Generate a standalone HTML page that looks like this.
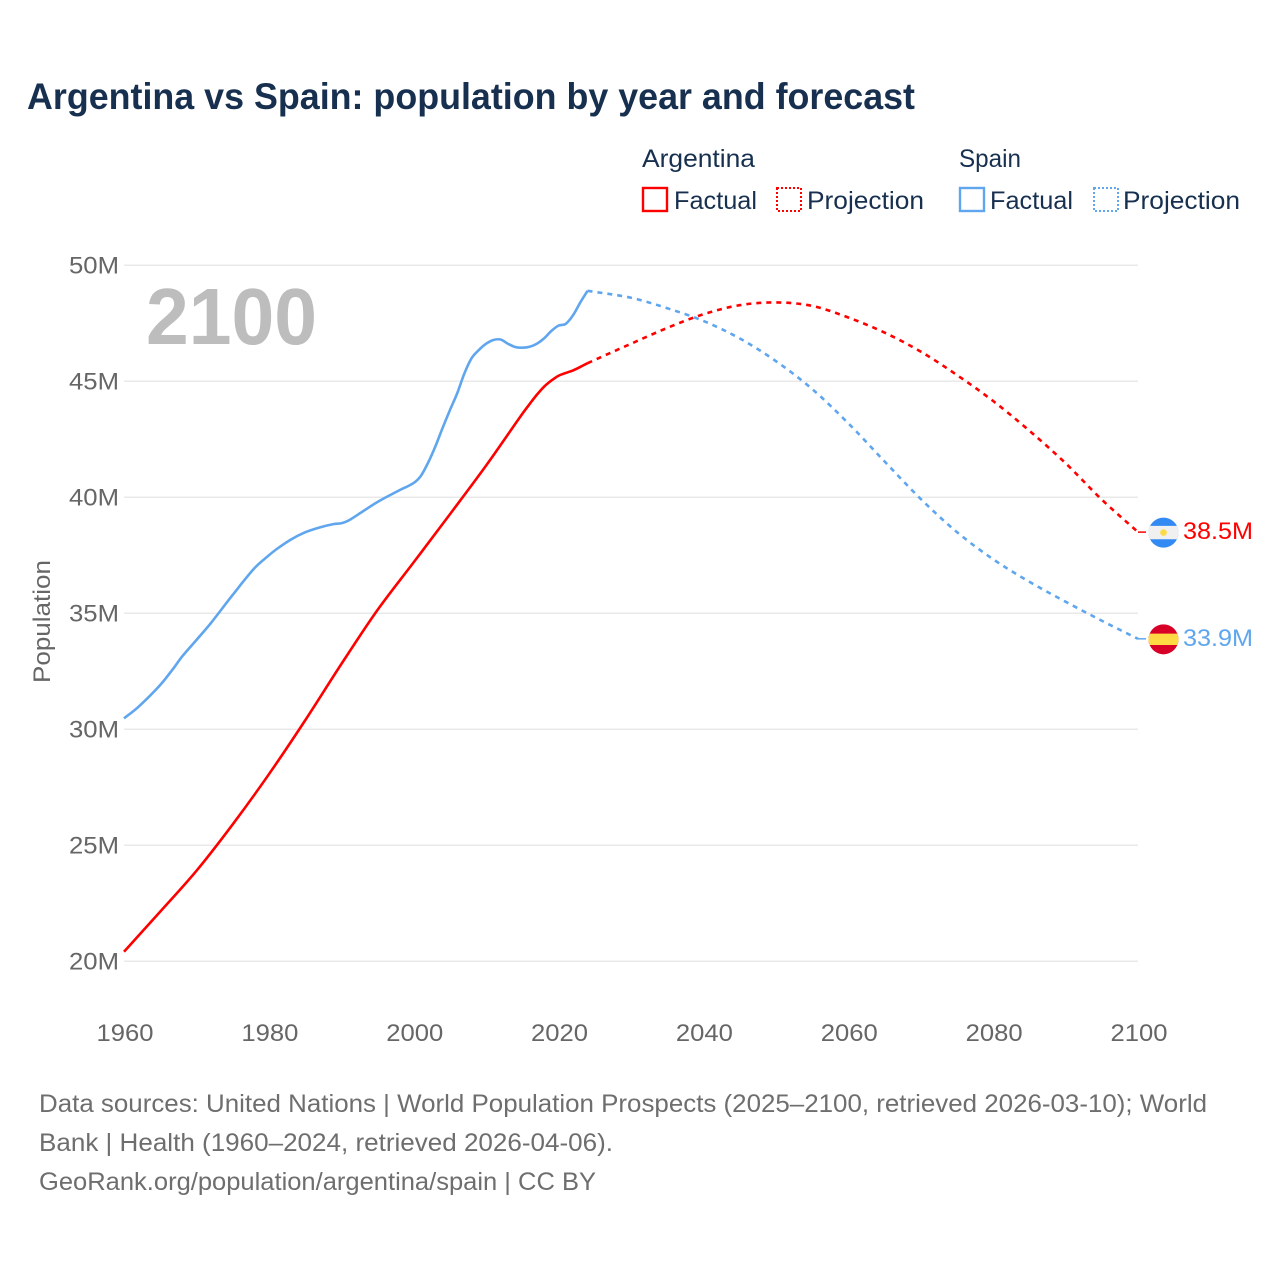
<!DOCTYPE html>
<html lang="en">
<head>
<meta charset="utf-8">
<title>Argentina vs Spain: population by year and forecast</title>
<style>
  html, body { margin: 0; padding: 0; background: #ffffff; }
  svg { display: block; font-family: "Liberation Sans", sans-serif; }
  .tick { font-size: 24px; fill: #666666; }
  .legend { font-size: 25px; fill: #17304f; }
  .foot { font-size: 25px; fill: #6e6e6e; }
</style>
</head>
<body>
<svg id="chart" xmlns="http://www.w3.org/2000/svg" width="1280" height="1280" viewBox="0 0 1280 1280">
  <rect x="0" y="0" width="1280" height="1280" fill="#ffffff"/>
  <text x="27" y="109" font-size="37" font-weight="700" fill="#17304f" textLength="888" lengthAdjust="spacingAndGlyphs">Argentina vs Spain: population by year and forecast</text>

  <g>
    <text class="legend" x="642" y="167" textLength="113" lengthAdjust="spacingAndGlyphs">Argentina</text>
    <rect x="643" y="188" width="24" height="23" fill="none" stroke="#ff0000" stroke-width="2.4"/>
    <text class="legend" x="674" y="209" textLength="83" lengthAdjust="spacingAndGlyphs">Factual</text>
    <rect x="777" y="188" width="24" height="23" fill="none" stroke="#ff0000" stroke-width="2" stroke-dasharray="2 2"/>
    <text class="legend" x="807" y="209" textLength="117" lengthAdjust="spacingAndGlyphs">Projection</text>
    <text class="legend" x="959" y="167" textLength="62" lengthAdjust="spacingAndGlyphs">Spain</text>
    <rect x="960" y="188" width="24" height="23" fill="none" stroke="#5fa6ee" stroke-width="2.4"/>
    <text class="legend" x="990" y="209" textLength="83" lengthAdjust="spacingAndGlyphs">Factual</text>
    <rect x="1094" y="188" width="24" height="23" fill="none" stroke="#5fa6ee" stroke-width="2" stroke-dasharray="2 2"/>
    <text class="legend" x="1123" y="209" textLength="117" lengthAdjust="spacingAndGlyphs">Projection</text>
  </g>

  <g id="grid"></g>
  <g id="yAxis"></g>
  <g id="xAxis"></g>
  <text class="tick" font-size="24" x="0" y="0" transform="translate(50,683) rotate(-90)" textLength="123" lengthAdjust="spacingAndGlyphs">Population</text>
  <text x="146" y="344" font-size="80" font-weight="700" fill="#bdbdbd" textLength="171" lengthAdjust="spacingAndGlyphs">2100</text>
  <g id="series"></g>
  <g id="ends"></g>

  <g>
    <text class="foot" x="39" y="1112" textLength="1168" lengthAdjust="spacingAndGlyphs">Data sources: United Nations | World Population Prospects (2025–2100, retrieved 2026-03-10); World</text>
    <text class="foot" x="39" y="1151" textLength="574" lengthAdjust="spacingAndGlyphs">Bank | Health (1960–2024, retrieved 2026-04-06).</text>
    <text class="foot" x="39" y="1190" textLength="557" lengthAdjust="spacingAndGlyphs">GeoRank.org/population/argentina/spain | CC BY</text>
  </g>
</svg>
<script>
const yTickValues = [20, 25, 30, 35, 40, 45, 50];
const xTickValues = [1960, 1980, 2000, 2020, 2040, 2060, 2080, 2100];

const argentinaFactualYears = [1960, 1965, 1970, 1975, 1980, 1985, 1990, 1995, 2000, 2005, 2010, 2015, 2016, 2017, 2018, 2019, 2020, 2021, 2022, 2023, 2024];
const argentinaFactualValues = [20.41, 22.14, 23.9, 25.9, 28.06, 30.38, 32.81, 35.14, 37.2, 39.27, 41.37, 43.6, 44.02, 44.42, 44.77, 45.03, 45.24, 45.36, 45.47, 45.62, 45.78];
const argentinaProjectionYears = [2024, 2030, 2035, 2040, 2045, 2050, 2055, 2060, 2065, 2070, 2075, 2080, 2085, 2090, 2095, 2100];
const argentinaProjectionValues = [45.78, 46.62, 47.3, 47.89, 48.28, 48.4, 48.25, 47.75, 47.1, 46.28, 45.27, 44.15, 42.87, 41.47, 39.9, 38.5];

const spainFactualYears = [1960, 1962, 1965, 1967, 1968, 1970, 1972, 1975, 1978, 1980, 1981, 1983, 1985, 1987, 1989, 1990, 1991, 1993, 1995, 1998, 2000, 2001, 2002, 2003, 2004, 2005, 2006, 2007, 2008, 2009, 2010, 2011, 2012, 2013, 2014, 2015, 2016, 2017, 2018, 2019, 2020, 2021, 2022, 2023, 2024];
const spainFactualValues = [30.47, 30.97, 31.91, 32.7, 33.13, 33.85, 34.58, 35.79, 36.94, 37.5, 37.75, 38.17, 38.49, 38.7, 38.85, 38.88, 39.0, 39.4, 39.8, 40.3, 40.62, 40.93, 41.5, 42.2, 43.0, 43.76, 44.48, 45.34, 46.0, 46.35, 46.62, 46.78, 46.8, 46.62, 46.48, 46.45, 46.49, 46.62, 46.85, 47.17, 47.4, 47.48, 47.85, 48.4, 48.9];
const spainProjectionYears = [2024, 2030, 2035, 2040, 2045, 2050, 2055, 2060, 2065, 2070, 2075, 2080, 2085, 2090, 2095, 2100];
const spainProjectionValues = [48.9, 48.6, 48.15, 47.6, 46.85, 45.87, 44.67, 43.19, 41.55, 39.93, 38.5, 37.33, 36.36, 35.5, 34.68, 33.9];

const SVG_NS = 'http://www.w3.org/2000/svg';
const RED = '#ff0000';
const BLUE = '#5fa6ee';

function xScale(year) { return 124 + (year - 1960) * (1014 / 140); }
function yScale(value) { return 961.3 - (value - 20) * 23.2; }

function make(tag, attrs, parent) {
  const el = document.createElementNS(SVG_NS, tag);
  for (const k in attrs) el.setAttribute(k, attrs[k]);
  parent.appendChild(el);
  return el;
}

function smoothPath(years, values) {
  const xs = years.map(xScale);
  const ys = values.map(yScale);
  const n = xs.length;
  const m = xs.map(function (_, i) {
    const a = Math.max(i - 1, 0);
    const b = Math.min(i + 1, n - 1);
    return (ys[b] - ys[a]) / (xs[b] - xs[a]);
  });
  let d = 'M' + xs[0].toFixed(2) + ' ' + ys[0].toFixed(2);
  for (let i = 0; i < n - 1; i++) {
    const h = (xs[i + 1] - xs[i]) / 3;
    d += ' C' + (xs[i] + h).toFixed(2) + ' ' + (ys[i] + m[i] * h).toFixed(2) +
         ' ' + (xs[i + 1] - h).toFixed(2) + ' ' + (ys[i + 1] - m[i + 1] * h).toFixed(2) +
         ' ' + xs[i + 1].toFixed(2) + ' ' + ys[i + 1].toFixed(2);
  }
  return d;
}

const gridGroup = document.getElementById('grid');
const yAxisGroup = document.getElementById('yAxis');
const xAxisGroup = document.getElementById('xAxis');
const seriesGroup = document.getElementById('series');
const endsGroup = document.getElementById('ends');

yTickValues.forEach(function (v) {
  const line = make('line', { x1: 124, x2: 1138, y1: yScale(v), y2: yScale(v), stroke: '#e9e9e9', 'stroke-width': 1.5 }, gridGroup);
  
  
  const label = make('text', { class: 'tick', x: 119, y: yScale(v) + 8, 'text-anchor': 'end', textLength: 50, lengthAdjust: 'spacingAndGlyphs' }, yAxisGroup);
  label.textContent = v + 'M';
  
  
});

xTickValues.forEach(function (year) {
  const label = make('text', { class: 'tick', x: xScale(year) + 1, y: 1041, 'text-anchor': 'middle', textLength: 57, lengthAdjust: 'spacingAndGlyphs' }, xAxisGroup);
  label.textContent = String(year);
  
  
});

const lineBase = { fill: 'none', 'stroke-width': 2.6, 'stroke-linejoin': 'round' };

const spainFactualLine = make('path', Object.assign({ d: smoothPath(spainFactualYears, spainFactualValues), stroke: BLUE }, lineBase), seriesGroup);



const spainProjectionLine = make('path', Object.assign({ d: smoothPath(spainProjectionYears, spainProjectionValues), stroke: BLUE, 'stroke-dasharray': '5 5' }, lineBase), seriesGroup);



const argentinaFactualLine = make('path', Object.assign({ d: smoothPath(argentinaFactualYears, argentinaFactualValues), stroke: RED }, lineBase), seriesGroup);



const argentinaProjectionLine = make('path', Object.assign({ d: smoothPath(argentinaProjectionYears, argentinaProjectionValues), stroke: RED, 'stroke-dasharray': '5 5' }, lineBase), seriesGroup);



/* End-of-line markers follow the last value of each projection series */
const argEndValue = argentinaProjectionValues[argentinaProjectionValues.length - 1];
const argEndY = yScale(argEndValue);
const endX = xScale(2100);

const argConnector = make('line', { x1: endX, x2: endX + 8, y1: argEndY, y2: argEndY, stroke: RED, 'stroke-width': 1.5 }, endsGroup);



const argFlag = make('g', { transform: 'translate(1163.5,' + (argEndY + 0.5) + ')' }, endsGroup);


make('circle', { r: 15, fill: '#338af3' }, argFlag);
make('path', { d: 'M-13.42 -6.7 H13.42 A15 15 0 0 1 13.42 6.7 H-13.42 A15 15 0 0 1 -13.42 -6.7 Z', fill: '#f0f0f0' }, argFlag);
make('circle', { r: 3.3, fill: '#ffda44' }, argFlag);

const argValue = make('text', { x: 1183, y: argEndY + 7, 'font-size': 24, fill: RED, textLength: 70, lengthAdjust: 'spacingAndGlyphs' }, endsGroup);
argValue.textContent = argEndValue.toFixed(1) + 'M';



const spainEndValue = spainProjectionValues[spainProjectionValues.length - 1];
const spainEndY = yScale(spainEndValue);

const spainConnector = make('line', { x1: endX, x2: endX + 8, y1: spainEndY, y2: spainEndY, stroke: BLUE, 'stroke-width': 1.5 }, endsGroup);



const spainFlag = make('g', { transform: 'translate(1163.5,' + (spainEndY + 0.5) + ')' }, endsGroup);


make('circle', { r: 15, fill: '#d80027' }, spainFlag);
make('path', { d: 'M-13.87 -5.7 H13.87 A15 15 0 0 1 13.87 5.7 H-13.87 A15 15 0 0 1 -13.87 -5.7 Z', fill: '#ffda44' }, spainFlag);

const spainValue = make('text', { x: 1183, y: spainEndY + 7, 'font-size': 24, fill: BLUE, textLength: 70, lengthAdjust: 'spacingAndGlyphs' }, endsGroup);
spainValue.textContent = spainEndValue.toFixed(1) + 'M';


</script>
</body>
</html>
